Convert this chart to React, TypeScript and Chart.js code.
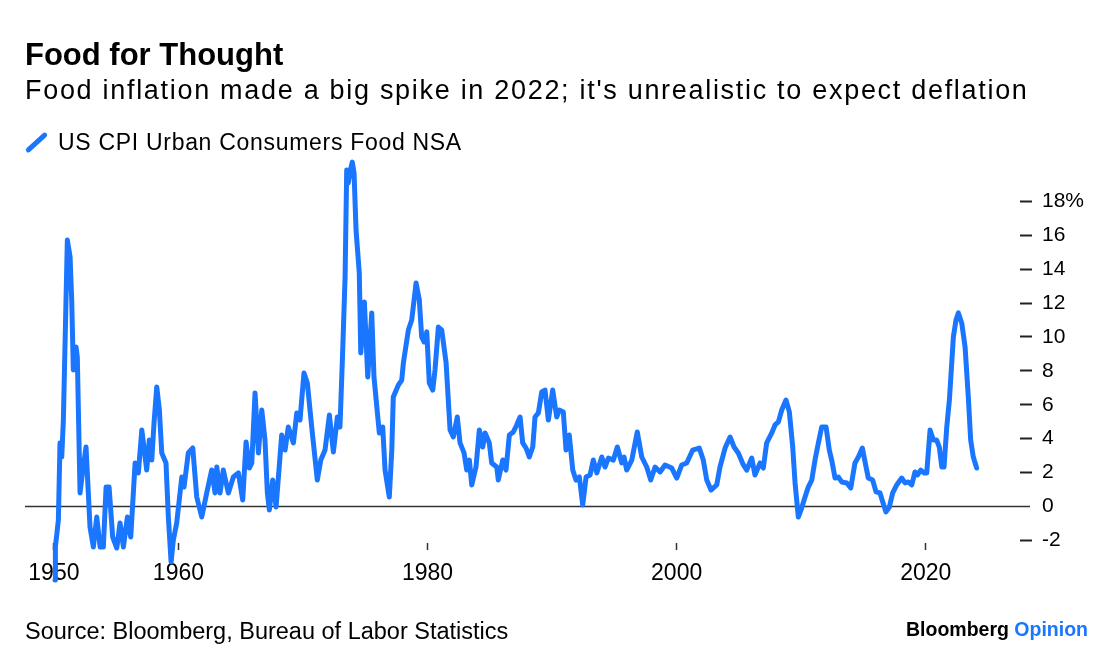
import React, { useEffect, useRef } from "react";
import { Chart, registerables } from "chart.js";

Chart.register(...registerables);

const TITLE = "Food for Thought";
const SUBTITLE = "Food inflation made a big spike in 2022; it's unrealistic to expect deflation";
const SERIES_LABEL = "US CPI Urban Consumers Food NSA";
const SOURCE = "Source: Bloomberg, Bureau of Labor Statistics";

const xTickYears = [1950, 1960, 1980, 2000, 2020];
const yTickValues = [-2, 0, 2, 4, 6, 8, 10, 12, 14, 16, 18];

const years = [
  1950.09, 1950.12, 1950.36, 1950.49, 1950.63, 1950.76, 1951.08, 1951.3, 1951.43, 1951.56,
  1951.78, 1951.88, 1952.1, 1952.32, 1952.58, 1952.9, 1953.17, 1953.44, 1953.71, 1953.97,
  1954.19, 1954.43, 1954.72, 1955.05, 1955.31, 1955.58, 1955.9, 1956.17, 1956.52, 1956.78,
  1957.06, 1957.45, 1957.66, 1957.86, 1958.04, 1958.26, 1958.47, 1958.66, 1959.0, 1959.19,
  1959.41, 1959.59, 1959.86, 1960.27, 1960.45, 1960.79, 1961.15, 1961.47, 1961.87, 1962.27,
  1962.67, 1962.94, 1963.08, 1963.34, 1963.6, 1964.01, 1964.41, 1964.81, 1965.16, 1965.43,
  1965.69, 1965.89, 1966.15, 1966.42, 1966.69, 1966.95, 1967.14, 1967.3, 1967.57, 1967.84,
  1968.29, 1968.56, 1968.82, 1969.23, 1969.5, 1969.76, 1970.08, 1970.35, 1970.7, 1971.15,
  1971.43, 1971.77, 1972.12, 1972.44, 1972.76, 1972.97, 1973.19, 1973.38, 1973.51, 1973.64,
  1973.8, 1973.96, 1974.1, 1974.26, 1974.52, 1974.64, 1974.93, 1975.2, 1975.52, 1975.7,
  1976.13, 1976.4, 1976.59, 1976.93, 1977.13, 1977.25, 1977.66, 1977.93, 1978.06, 1978.46,
  1978.73, 1979.08, 1979.34, 1979.53, 1979.72, 1979.94, 1980.14, 1980.42, 1980.6, 1980.87,
  1981.14, 1981.49, 1981.81, 1982.07, 1982.39, 1982.61, 1982.93, 1983.15, 1983.36, 1983.55,
  1983.89, 1984.16, 1984.43, 1984.62, 1984.96, 1985.15, 1985.56, 1985.68, 1986.04, 1986.3,
  1986.57, 1986.89, 1987.16, 1987.43, 1987.64, 1987.91, 1988.17, 1988.45, 1988.63, 1988.9,
  1989.17, 1989.43, 1989.7, 1990.05, 1990.37, 1990.58, 1990.9, 1991.12, 1991.38, 1991.66,
  1991.92, 1992.19, 1992.46, 1992.73, 1993.05, 1993.31, 1993.59, 1993.99, 1994.25, 1994.52,
  1994.92, 1995.24, 1995.59, 1995.78, 1995.99, 1996.4, 1996.84, 1997.2, 1997.6, 1997.92,
  1998.27, 1998.67, 1999.07, 1999.61, 2000.01, 2000.41, 2000.81, 2001.29, 2001.82, 2002.14,
  2002.42, 2002.76, 2003.22, 2003.48, 2003.89, 2004.29, 2004.61, 2004.95, 2005.36, 2005.63,
  2006.03, 2006.29, 2006.7, 2006.96, 2007.23, 2007.64, 2007.9, 2008.17, 2008.44, 2008.78,
  2009.05, 2009.32, 2009.51, 2009.77, 2010.04, 2010.31, 2010.57, 2010.85, 2011.11, 2011.38,
  2011.65, 2012.0, 2012.26, 2012.45, 2012.72, 2012.98, 2013.26, 2013.66, 2013.98, 2014.32,
  2014.59, 2014.91, 2015.21, 2015.39, 2015.74, 2016.01, 2016.33, 2016.55, 2016.81, 2017.08,
  2017.35, 2017.67, 2018.07, 2018.34, 2018.6, 2018.88, 2019.14, 2019.33, 2019.6, 2019.86,
  2020.08, 2020.35, 2020.61, 2020.88, 2021.09, 2021.29, 2021.47, 2021.69, 2021.9, 2022.22,
  2022.43, 2022.62, 2022.89, 2023.16, 2023.42, 2023.61, 2023.82, 2024.09,
];

const foodInflation = [
  -4.34, -2.39, -0.8, 3.75, 2.92, 5.1, 15.72, 14.72, 12.18, 8.05,
  9.41, 8.82, 0.8, 2.15, 3.51, -1.21, -2.39, -0.62, -2.39, -2.39,
  1.15, 1.15, -1.8, -2.45, -0.97, -2.39, -0.62, -1.8, 2.57, 1.98,
  4.51, 2.15, 3.92, 2.74, 4.93, 7.05, 5.69, 3.16, 2.57, -0.62,
  -3.27, -1.98, -0.97, 1.74, 1.15, 3.16, 3.45, 0.56, -0.62, 0.8,
  2.15, 0.8, 2.33, 0.8, 2.15, 0.8, 1.74, 1.98, 0.38, 3.81,
  2.27, 2.57, 6.7, 3.16, 5.69, 3.92, 0.8, -0.21, 1.56, -0.03,
  4.22, 3.33, 4.69, 3.75, 5.52, 5.1, 7.88, 7.29, 4.69, 1.56,
  2.74, 3.33, 5.4, 3.22, 5.28, 4.69, 9.23, 13.54, 19.85, 19.09,
  19.85, 20.32, 19.68, 16.31, 13.77, 9.06, 12.06, 7.64, 11.42, 7.64,
  4.34, 4.69, 2.15, 0.56, 3.33, 6.46, 7.17, 7.46, 8.47, 10.41,
  11.0, 13.19, 12.18, 10.0, 9.71, 10.3, 7.29, 6.87, 8.05, 10.59,
  10.41, 8.47, 4.51, 4.1, 5.28, 3.75, 3.16, 2.15, 2.74, 1.27,
  2.33, 4.51, 3.51, 4.34, 3.75, 2.57, 2.33, 1.56, 2.74, 2.15,
  4.22, 4.4, 4.81, 5.28, 3.75, 3.45, 2.92, 3.51, 5.28, 5.52,
  6.76, 6.87, 5.1, 6.87, 5.28, 5.69, 5.58, 3.33, 4.22, 2.15,
  1.56, 1.74, 0.09, 1.74, 1.86, 2.74, 1.98, 2.92, 2.33, 2.86,
  2.74, 3.51, 2.57, 2.92, 2.15, 2.74, 4.4, 2.92, 2.33, 1.56,
  2.33, 2.04, 2.45, 2.27, 1.68, 2.45, 2.57, 3.33, 3.45, 2.74,
  1.56, 0.97, 1.27, 2.33, 3.45, 4.1, 3.51, 3.16, 2.45, 2.15,
  2.86, 1.86, 2.57, 2.27, 3.75, 4.34, 4.81, 4.99, 5.69, 6.28,
  5.58, 3.51, 1.39, -0.62, -0.09, 0.56, 1.15, 1.56, 2.74, 3.75,
  4.69, 4.69, 3.33, 2.74, 1.68, 1.74, 1.45, 1.39, 1.09, 2.57,
  2.92, 3.45, 2.33, 1.68, 1.56, 0.86, 0.8, 0.27, -0.32, -0.03,
  0.8, 1.27, 1.68, 1.39, 1.45, 1.27, 2.04, 1.86, 2.15, 1.98,
  1.98, 4.51, 3.92, 3.92, 3.51, 2.33, 2.33, 4.69, 6.28, 10.0,
  11.0, 11.42, 10.83, 9.41, 6.46, 3.92, 2.92, 2.27,
];

const BLUE = "#1a75ff";
const FONT = "'Liberation Sans', Arial, Helvetica, sans-serif";

const zeroLinePlugin = {
  id: "zeroLine",
  beforeDatasetsDraw(chart: any) {
    const { ctx, chartArea, scales } = chart;
    const y = scales.y.getPixelForValue(0);
    ctx.save();
    ctx.strokeStyle = "#333";
    ctx.lineWidth = 1.6;
    ctx.beginPath();
    ctx.moveTo(chartArea.left, y);
    ctx.lineTo(chartArea.right + 10, y);
    ctx.stroke();
    ctx.restore();
  },
};

function FoodChart() {
  const canvasRef = useRef<HTMLCanvasElement | null>(null);

  useEffect(() => {
    if (!canvasRef.current) return;
    const points = years.map((yr, i) => ({ x: yr, y: foodInflation[i] }));
    const chart = new Chart(canvasRef.current, {
      type: "line",
      data: {
        datasets: [
          {
            label: SERIES_LABEL,
            data: points,
            borderColor: BLUE,
            borderWidth: 5,
            pointRadius: 0,
            tension: 0,
            borderJoinStyle: "round",
            borderCapStyle: "round",
            clip: false as any,
          },
        ],
      },
      options: {
        animation: false,
        responsive: false,
        maintainAspectRatio: false,
        devicePixelRatio: 1,
        layout: { padding: { top: 158, left: 25, right: 0, bottom: 0 } },
        plugins: {
          legend: { display: false },
          title: { display: false },
          tooltip: { enabled: false },
        },
        scales: {
          x: {
            type: "linear",
            min: 1947.68,
            max: 2027.57,
            afterBuildTicks: (axis: any) => {
              axis.ticks = xTickYears.map((v) => ({ value: v }));
            },
            afterFit: (axis: any) => {
              axis.height = 113;
            },
            ticks: {
              autoSkip: false,
              maxRotation: 0,
              padding: 10,
              color: "#000",
              font: { family: FONT, size: 23 },
              callback: (v: any) => String(v),
            },
            grid: {
              drawOnChartArea: false,
              drawTicks: true,
              tickLength: 7,
              tickWidth: 1.5,
              tickColor: "#333",
            },
            border: { display: false },
          },
          y: {
            type: "linear",
            position: "right",
            min: -2.153,
            max: 20.56,
            afterBuildTicks: (axis: any) => {
              axis.ticks = yTickValues.map((v) => ({ value: v }));
            },
            afterFit: (axis: any) => {
              axis.width = 76;
            },
            ticks: {
              autoSkip: false,
              padding: 10,
              color: "#000",
              font: { family: FONT, size: 21 },
              callback: (v: any) => (v === 18 ? "18%" : String(v)),
            },
            grid: {
              drawOnChartArea: false,
              drawTicks: true,
              tickLength: 12,
              tickWidth: 2,
              tickColor: (ctx: any) => (ctx.tick && ctx.tick.value === 0 ? "rgba(0,0,0,0)" : "#222"),
            },
            border: { display: false },
          },
        },
      },
      plugins: [zeroLinePlugin],
    });
    return () => chart.destroy();
  }, []);

  return (
    <canvas
      ref={canvasRef}
      width={1096}
      height={656}
      style={{ position: "absolute", left: 0, top: 0, width: 1096, height: 656 }}
    />
  );
}

export default function App() {
  return (
    <div
      style={{
        position: "absolute",
        left: 0,
        top: 0,
        width: 1096,
        height: 656,
        background: "#fff",
        fontFamily: FONT,
        color: "#000",
        overflow: "hidden",
      }}
    >
      <FoodChart />
      <div style={{ position: "absolute", left: 25, top: 38.5, fontSize: 31, lineHeight: "31px", fontWeight: 700, whiteSpace: "nowrap" }}>
        {TITLE}
      </div>
      <div style={{ position: "absolute", left: 25, top: 77, fontSize: 27, lineHeight: "27px", letterSpacing: "1.7px", whiteSpace: "nowrap" }}>
        {SUBTITLE}
      </div>
      <div
        style={{
          position: "absolute",
          left: 23,
          top: 140,
          width: 27,
          height: 5,
          borderRadius: 2.5,
          background: BLUE,
          transform: "rotate(-42.6deg)",
        }}
      />
      <div style={{ position: "absolute", left: 58, top: 131, fontSize: 23, lineHeight: "23px", letterSpacing: "0.7px", whiteSpace: "nowrap" }}>
        {SERIES_LABEL}
      </div>
      <div style={{ position: "absolute", left: 25, top: 620, fontSize: 23.5, lineHeight: "23.5px", whiteSpace: "nowrap" }}>
        {SOURCE}
      </div>
      <div
        style={{
          position: "absolute",
          right: 8,
          top: 619.5,
          fontSize: 19.5,
          lineHeight: "19.5px",
          fontWeight: 700,
          whiteSpace: "nowrap",
        }}
      >
        <span style={{ color: "#000" }}>Bloomberg</span>
        <span style={{ color: BLUE }}> Opinion</span>
      </div>
    </div>
  );
}
